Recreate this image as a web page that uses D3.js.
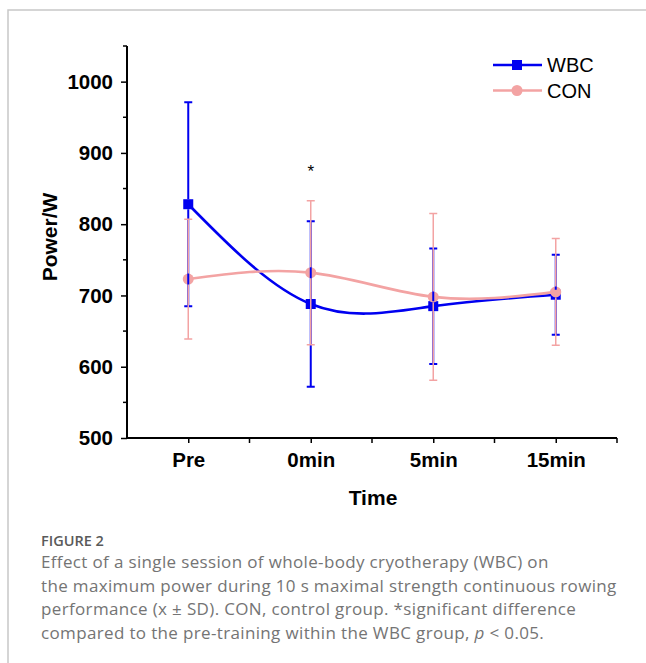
<!DOCTYPE html>
<html>
<head>
<meta charset="utf-8">
<script src="https://cdn.jsdelivr.net/npm/d3@7"></script>
<style>
	html, body { margin: 0; padding: 0; background: #fff; }
	#chart { width: 646px; height: 663px; }
</style>
</head>
<body>
<div id="chart"></div>
<script>
//data
const categories = ['Pre', '0min', '5min', '15min'];
const wbcMean = [828, 688, 685, 701];
const wbcSD = [143, 116, 81, 56];
const conMean = [723, 732, 698, 705];
const conSD = [84, 101, 117, 75];
const yTicks = [500, 600, 700, 800, 900, 1000];
const yMinorTicks = [550, 650, 750, 850, 950, 1050];
const seriesNames = ['WBC', 'CON'];
const captionLines = [
	'Effect of a single session of whole-body cryotherapy (WBC) on',
	'the maximum power during 10 s maximal strength continuous rowing',
	'performance (x \u00b1 SD). CON, control group. *significant difference',
];

render();

function render() {
	const width = 646;
	const height = 663;
	const blue = '#0000f0';
	const pink = '#f3a3a3';
	const axisFont = 'Liberation Sans, Arial, sans-serif';

	const svg = d3.select('#chart').append('svg')
		.attr('width', width)
		.attr('height', height);

	// card frame (top and left edge)
	svg.append('path')
		.attr('d', 'M8,663 V10 H646')
		.style('fill', 'none')
		.style('stroke', '#c8c8c8')
		.style('stroke-width', 1.5);

	const x = d3.scaleLinear().domain([0.5, 4.5]).range([127, 617]);
	const y = d3.scaleLinear().domain([500, 1050]).range([438, 46]);

	const wbc = categories.map((c, i) => ({ i: i + 1, m: wbcMean[i], sd: wbcSD[i] }));
	const con = categories.map((c, i) => ({ i: i + 1, m: conMean[i], sd: conSD[i] }));

	//axes
	const xAxis = d3.axisBottom(x)
		.tickValues([1, 2, 3, 4])
		.tickFormat((d) => categories[d - 1])
		.tickSize(5)
		.tickPadding(8);
	const gx = svg.append('g').attr('transform', translation(0, 438)).call(xAxis);
	gx.append('g').selectAll('line')
		.data([1.5, 2.5, 3.5, 4.5])
		.enter().append('line')
		.attr('x1', (d) => x(d)).attr('x2', (d) => x(d))
		.attr('y1', 0).attr('y2', 5)
		.style('stroke', '#000').style('stroke-width', 1.5);

	const yAxis = d3.axisLeft(y)
		.tickValues(yTicks)
		.tickFormat(d3.format('d'))
		.tickSize(6)
		.tickPadding(8);
	const gy = svg.append('g').attr('transform', translation(127, 0)).call(yAxis);
	gy.append('g').selectAll('line')
		.data(yMinorTicks)
		.enter().append('line')
		.attr('x1', -4).attr('x2', 0)
		.attr('y1', (d) => y(d)).attr('y2', (d) => y(d))
		.style('stroke', '#000').style('stroke-width', 1.5);

	[gx, gy].forEach((g) => {
		g.select('.domain').style('stroke', '#000').style('stroke-width', 2);
		g.selectAll('.tick line').style('stroke', '#000').style('stroke-width', 1.5);
		g.selectAll('.tick text')
			.style('font-family', axisFont)
			.style('font-weight', 'bold')
			.style('font-size', '20.5px')
			.style('fill', '#000');
	});
	gx.select('.domain').attr('d', `M${x(0.5)},0H${x(4.5)}`);
	gy.select('.domain').attr('d', `M0,${y(500)}V${y(1050)}`);
	gx.selectAll('.tick text').attr('dy', '0.8em');

	svg.append('text')
		.attr('x', 373).attr('y', 505)
		.attr('text-anchor', 'middle')
		.style('font-family', axisFont)
		.style('font-weight', 'bold')
		.style('font-size', '21px')
		.text('Time');

	svg.append('text')
		.attr('transform', 'translate(57,237) rotate(-90)')
		.attr('text-anchor', 'middle')
		.style('font-family', axisFont)
		.style('font-weight', 'bold')
		.style('font-size', '21px')
		.text('Power/W');

	//lines
	const line = d3.line()
		.x((d) => x(d.i))
		.y((d) => y(d.m))
		.curve(d3.curveNatural);

	const plot = svg.append('g');

	plot.append('path').datum(wbc)
		.attr('d', line)
		.style('fill', 'none').style('stroke', blue).style('stroke-width', 2.6);
	plot.selectAll('.wbc-pt').data(wbc).enter().append('rect')
		.attr('class', 'wbc-pt')
		.attr('x', (d) => x(d.i) - 5).attr('y', (d) => y(d.m) - 5)
		.attr('width', 10).attr('height', 10)
		.style('fill', blue);

	plot.append('path').datum(con)
		.attr('d', line)
		.style('fill', 'none').style('stroke', pink).style('stroke-width', 2.6);
	plot.selectAll('.con-pt').data(con).enter().append('circle')
		.attr('class', 'con-pt')
		.attr('cx', (d) => x(d.i)).attr('cy', (d) => y(d.m))
		.attr('r', 5.5)
		.style('fill', pink);

	errorBars(plot, wbc, blue, 2, 5);
	errorBars(plot, con, pink, 1.5, 5.5);

	function errorBars(g, data, color, sw, gap) {
		const eb = g.selectAll(null).data(data).enter().append('g');
		eb.append('path')
			.attr('d', (d) => {
				const cx = x(d.i);
				return `M${cx},${y(d.m) - gap}V${y(d.m + d.sd)}M${cx},${y(d.m) + gap}V${y(d.m - d.sd)}`
					+ `M${cx - 4},${y(d.m + d.sd)}H${cx + 4}M${cx - 4},${y(d.m - d.sd)}H${cx + 4}`;
			})
			.style('fill', 'none').style('stroke', color).style('stroke-width', sw);
	}

	// significance mark
	svg.append('text')
		.attr('x', x(2)).attr('y', 177)
		.attr('text-anchor', 'middle')
		.style('font-family', axisFont)
		.style('font-size', '17px')
		.text('*');

	//legend
	const legend = svg.append('g').attr('transform', translation(493, 65));
	const legendRows = legend.selectAll('g').data(seriesNames).enter().append('g')
		.attr('transform', (d, i) => translation(0, i * 25.5));
	legendRows.append('line')
		.attr('x1', 0).attr('x2', 49).attr('y1', 0).attr('y2', 0)
		.style('stroke', (d, i) => (i === 0 ? blue : pink))
		.style('stroke-width', 2.6);
	legendRows.each(function (d, i) {
		const r = d3.select(this);
		if (i === 0) {
			r.append('rect').attr('x', 19).attr('y', -5).attr('width', 10).attr('height', 10).style('fill', blue);
		} else {
			r.append('circle').attr('cx', 24).attr('cy', 0).attr('r', 5.5).style('fill', pink);
		}
	});
	legendRows.append('text')
		.attr('x', 54).attr('y', 7)
		.style('font-family', axisFont)
		.style('font-size', '20px')
		.text((d) => d);

	//caption
	const cap = svg.append('g').style('font-family', 'Open Sans, sans-serif');
	cap.append('text')
		.attr('x', 41).attr('y', 546)
		.style('font-size', '14.5px')
		.style('font-weight', 600)
		.style('fill', '#5a5a5a')
		.text('FIGURE 2');
	cap.selectAll('.cap-line').data(captionLines).enter().append('text')
		.attr('class', 'cap-line')
		.attr('x', 41)
		.attr('y', (d, i) => 568 + i * 23.5)
		.style('font-size', '17px')
		.style('letter-spacing', '0.35px')
		.style('fill', '#747474')
		.text((d) => d);
	const last = cap.append('text')
		.attr('x', 41).attr('y', 568 + 3 * 23.5)
		.style('font-size', '17px')
		.style('letter-spacing', '0.35px')
		.style('fill', '#747474');
	last.append('tspan').text('compared to the pre-training within the WBC group, ');
	last.append('tspan').style('font-style', 'italic').text('p');
	last.append('tspan').text(' < 0.05.');
}

//utils
function translation(x, y) {
	return `translate(${x}, ${y})`;
}
</script>
</body>
</html>
